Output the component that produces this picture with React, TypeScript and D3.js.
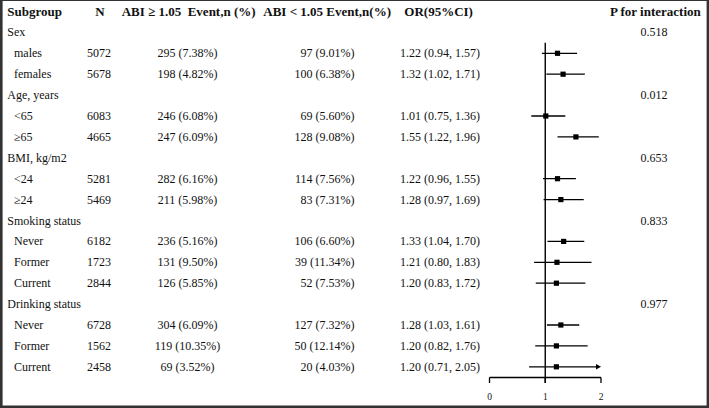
import React from "react";
import * as d3 from "d3";

const groupNames = ["Sex", "Age, years", "BMI, kg/m2", "Smoking status", "Drinking status"];
const pInteraction = ["0.518", "0.012", "0.653", "0.833", "0.977"];
const subLabels = [
  ["males", "females"],
  ["<65", "≥65"],
  ["<24", "≥24"],
  ["Never", "Former", "Current"],
  ["Never", "Former", "Current"],
];
const nValues = [5072, 5678, 6083, 4665, 5281, 5469, 6182, 1723, 2844, 6728, 1562, 2458];
const eventsHigh = ["295 (7.38%)", "198 (4.82%)", "246 (6.08%)", "247 (6.09%)", "282 (6.16%)", "211 (5.98%)", "236 (5.16%)", "131 (9.50%)", "126 (5.85%)", "304 (6.09%)", "119 (10.35%)", "69 (3.52%)"];
const eventsLow = ["97 (9.01%)", "100 (6.38%)", "69 (5.60%)", "128 (9.08%)", "114 (7.56%)", "83 (7.31%)", "106 (6.60%)", "39 (11.34%)", "52 (7.53%)", "127 (7.32%)", "50 (12.14%)", "20 (4.03%)"];
const orValues = [1.22, 1.32, 1.01, 1.55, 1.22, 1.28, 1.33, 1.21, 1.2, 1.28, 1.2, 1.2];
const orLower = [0.94, 1.02, 0.75, 1.22, 0.96, 0.97, 1.04, 0.8, 0.83, 1.03, 0.82, 0.71];
const orUpper = [1.57, 1.71, 1.36, 1.96, 1.55, 1.69, 1.7, 1.83, 1.72, 1.61, 1.76, 2.05];
const axisTicks = [0, 1, 2];

const W = 709;
const H = 408;
const FONT = "'Liberation Serif', 'Times New Roman', serif";
const ROW0 = 11.5;
const ROWH = 20.9;

type Row = { kind: "group"; label: string; p: string } | { kind: "item"; label: string; idx: number };

export default function App() {
  const rows: Row[] = [];
  let k = 0;
  groupNames.forEach((g, gi) => {
    rows.push({ kind: "group", label: g, p: pInteraction[gi] });
    subLabels[gi].forEach((s) => {
      rows.push({ kind: "item", label: s, idx: k });
      k++;
    });
  });

  const y = (i: number) => ROW0 + ROWH * (i + 1);
  const x = d3.scaleLinear().domain([0, 2]).range([489.5, 601]);
  const axisY = 377.5;
  const fmt = d3.format(".2f");

  const txt = { fontFamily: FONT, fontSize: 12, fill: "#111" } as const;
  const hdr = { fontFamily: FONT, fontSize: 13, fontWeight: "bold", fill: "#111" } as const;

  return (
    <svg width={W} height={H} style={{ position: "absolute", left: 0, top: 0, display: "block", background: "#fff" }}>
      <rect x={0} y={0} width={W} height={H} fill="#fff" />
      {/* header */}
      <g style={{ whiteSpace: "pre" }}>
        <text x={7.3} y={ROW0 + 4.5} {...hdr}>Subgroup</text>
        <text x={100} y={ROW0 + 4.5} textAnchor="middle" {...hdr}>N</text>
        <text x={121.7} y={ROW0 + 4.5} {...hdr} xmlSpace="preserve">{"ABI ≥ 1.05  Event,n (%)"}</text>
        <text x={263.3} y={ROW0 + 4.5} {...hdr}>ABI &lt; 1.05 Event,n(%)</text>
        <text x={404.3} y={ROW0 + 4.5} {...hdr}>OR(95%CI)</text>
        <text x={610} y={ROW0 + 4.5} {...hdr}>P for interaction</text>
      </g>
      {/* reference line at 1 */}
      <line x1={x(1)} x2={x(1)} y1={42.7} y2={383} stroke="#000" strokeWidth={1.4} />
      {/* axis */}
      <line x1={x(0)} x2={x(2)} y1={axisY} y2={axisY} stroke="#000" strokeWidth={1.3} />
      {axisTicks.map((t) => (
        <g key={t}>
          <line x1={x(t)} x2={x(t)} y1={axisY} y2={383} stroke="#000" strokeWidth={1.3} />
          <text x={x(t)} y={400} textAnchor="middle" fontFamily={FONT} fontSize={9.5} fill="#111">{t}</text>
        </g>
      ))}
      {rows.map((r, i) => {
        const cy = y(i);
        if (r.kind === "group") {
          return (
            <g key={i}>
              <text x={7.3} y={cy + 4} {...txt}>{r.label}</text>
              <text x={654} y={cy + 4} textAnchor="middle" {...txt}>{r.p}</text>
            </g>
          );
        }
        const j = r.idx;
        const lo = Math.max(0, orLower[j]);
        const hiRaw = orUpper[j];
        const clipped = hiRaw > 2;
        const hi = Math.min(2, hiRaw);
        return (
          <g key={i}>
            <text x={14} y={cy + 4} {...txt}>{r.label}</text>
            <text x={99} y={cy + 4} textAnchor="middle" {...txt}>{nValues[j]}</text>
            <text x={187.5} y={cy + 4} textAnchor="middle" {...txt}>{eventsHigh[j]}</text>
            <text x={354.5} y={cy + 4} textAnchor="end" {...txt}>{eventsLow[j]}</text>
            <text x={440} y={cy + 4} textAnchor="middle" {...txt}>
              {`${fmt(orValues[j])} (${fmt(orLower[j])}, ${fmt(orUpper[j])})`}
            </text>
            <line x1={x(lo)} x2={clipped ? x(hi) - 3 : x(hi)} y1={cy} y2={cy} stroke="#000" strokeWidth={1.3} />
            {clipped && (
              <path d={`M${x(hi)},${cy} L${x(hi) - 5},${cy - 2.8} L${x(hi) - 5},${cy + 2.8} Z`} fill="#000" />
            )}
            <rect x={x(orValues[j]) - 2.6} y={cy - 2.6} width={5.2} height={5.2} fill="#000" />
          </g>
        );
      })}
      {/* frame */}
      <rect x={0} y={0} width={W} height={1} fill="#333" />
      <rect x={0} y={0} width={2.6} height={H} fill="#333" />
      <rect x={W - 2.4} y={0} width={2.4} height={H} fill="#333" />
      <rect x={0} y={H - 2.5} width={W} height={2.5} fill="#333" />
    </svg>
  );
}
